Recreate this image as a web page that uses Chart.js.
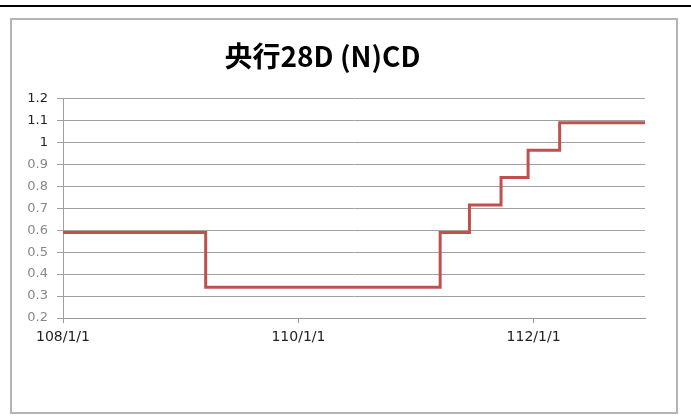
<!DOCTYPE html>
<html>
<head>
<meta charset="utf-8">
<script src="https://cdn.jsdelivr.net/npm/chart.js@4"></script>
<style>
  html, body { margin: 0; padding: 0; background: #fff; }
  #wrap { position: relative; width: 691px; height: 417px; overflow: hidden; }
  #topline { position: absolute; left: 0; top: 5px; width: 691px; height: 2px; background: #000; }
  #frame { position: absolute; left: 10px; top: 18px; width: 668px; height: 396px;
           box-sizing: border-box; border: 2px solid #b4b4b4; }
  #rateChart { position: absolute; left: 0; top: 0; }
</style>
</head>
<body>
<div id="wrap">
  <div id="topline"></div>
  <div id="frame"></div>
  <canvas id="rateChart" width="691" height="417"></canvas>
</div>
<script>
// 央行28天期NCD利率 (dates where the rate changed, ROC calendar on axis)
const dates = ['2019-01-01', '2020-03-19', '2022-03-17', '2022-06-16', '2022-09-22', '2022-12-15', '2023-03-23', '2023-12-13'];
const rates = [0.59, 0.34, 0.59, 0.715, 0.84, 0.965, 1.09, 1.09];
const tickDates = ['2019-01-01', '2021-01-01', '2023-01-01'];
const tickLabels = ['108/1/1', '110/1/1', '112/1/1'];

const day = s => Date.parse(s + 'T00:00:00Z') / 86400000;

const ctx = document.getElementById('rateChart').getContext('2d');
const rateChart = new Chart(ctx, {
    type: 'line',
    data: {
        datasets: [{
            label: '央行28D (N)CD',
            data: dates.map((d, i) => ({ x: day(d), y: rates[i] })),
            borderColor: '#c0504d',
            borderWidth: 3,
            pointRadius: 0,
            stepped: 'before',
            fill: false
        }]
    },
    options: {
        responsive: false,
        animation: false,
        devicePixelRatio: 1,
        layout: { padding: { left: 0, right: 46, top: 0, bottom: 0 } },
        scales: {
            x: {
                type: 'linear',
                min: day(dates[0]),
                max: day(dates[dates.length - 1]),
                afterBuildTicks: axis => {
                    axis.ticks = tickDates.map(d => ({ value: day(d) }));
                },
                afterFit: axis => { axis.height = 99; },
                grid: { drawOnChartArea: false, drawTicks: true, tickLength: 5, color: '#999' },
                border: { color: '#999', width: 1 },
                ticks: {
                    autoSkip: false,
                    maxRotation: 0,
                    padding: 6,
                    color: '#222',
                    font: { family: 'DejaVu Sans', size: 14 },
                    callback: v => tickLabels[tickDates.findIndex(d => day(d) === v)]
                }
            },
            y: {
                min: 0.2,
                max: 1.2,
                afterFit: axis => { axis.width = 63; },
                grid: { color: '#a0a0a0', lineWidth: 1, tickLength: 6 },
                border: { color: '#a0a0a0', width: 1 },
                ticks: {
                    stepSize: 0.1,
                    padding: 9,
                    color: c => c.tick && c.tick.value >= 0.99 ? '#222' : '#888',
                    font: { family: 'DejaVu Sans', size: 13 },
                    callback: v => String(Number(v.toFixed(1)))
                }
            }
        },
        plugins: {
            legend: { display: false },
            tooltip: { enabled: false },
            title: {
                display: true,
                text: '央行28D (N)CD',
                color: '#000',
                font: { family: '"Noto Sans CJK TC"', size: 28, weight: 'bold', lineHeight: 1.2 },
                padding: { top: 40, bottom: 25 }
            }
        }
    }
});
</script>
</body>
</html>
